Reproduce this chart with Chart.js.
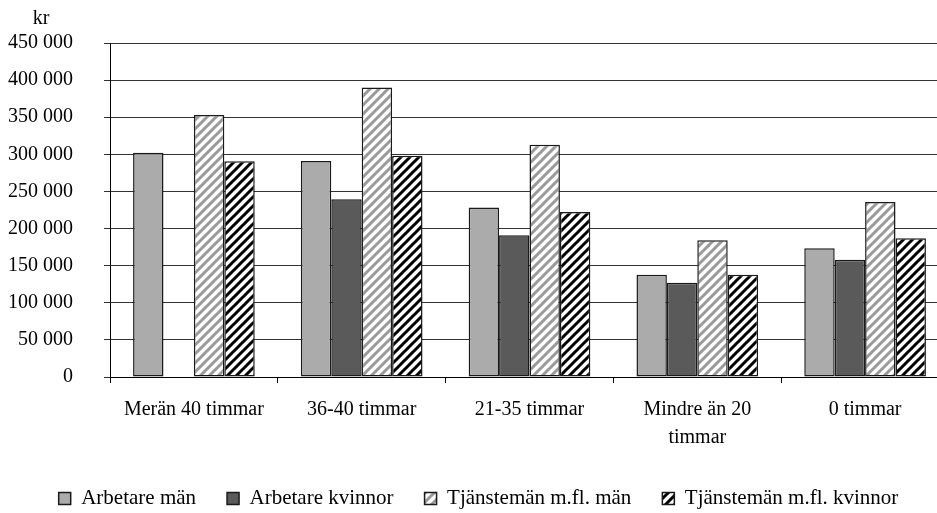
<!DOCTYPE html>
<html>
<head>
<meta charset="utf-8">
<script src="https://cdn.jsdelivr.net/npm/chart.js@4/dist/chart.umd.min.js"></script>
<style>
  html, body { margin: 0; padding: 0; background: #fff; overflow: hidden; }
  #wrap { position: relative; width: 950px; height: 513px; }
</style>
</head>
<body>
<div id="wrap"><canvas id="c"></canvas></div>
<script>
const categories = ['Merän 40 timmar', '36-40 timmar', '21-35 timmar', ['Mindre än 20', 'timmar'], '0 timmar'];
const seriesNames = ['Arbetare män', 'Arbetare kvinnor', 'Tjänstemän m.fl. män', 'Tjänstemän m.fl. kvinnor'];
const arbetareMan = [302000, 291000, 228500, 137700, 173500];
const arbetareKvinnor = [null, 239500, 191000, 127000, 158000];
const tjanstemanMan = [353000, 390000, 313000, 184300, 235700];
const tjanstemanKvinnor = [290700, 298000, 222200, 137700, 187000];
const yTickStep = 50000;
const yMax = 450000;
const unitLabel = 'kr';

const FONT = 'Liberation Serif, Times New Roman, serif';

function hatch(color) {
  const s = 9;
  const c = document.createElement('canvas');
  c.width = s; c.height = s;
  const g = c.getContext('2d');
  g.fillStyle = '#ffffff';
  g.fillRect(0, 0, s, s);
  g.strokeStyle = color;
  g.lineWidth = 3;
  g.lineCap = 'square';
  g.beginPath();
  g.moveTo(-2, s + 2); g.lineTo(s + 2, -2);
  g.moveTo(-2, 2); g.lineTo(2, -2);
  g.moveTo(s - 2, s + 2); g.lineTo(s + 2, s - 2);
  g.stroke();
  return g.createPattern(c, 'repeat');
}

function fmt(v) {
  return String(v).replace(/\B(?=(\d{3})+(?!\d))/g, ' ');
}

const Y_TICK_LEN = 6;
const Y_PAD = 31;

const unitPlugin = {
  id: 'unitLabel',
  afterDraw(chart) {
    const y = chart.scales.y;
    const ctx = chart.ctx;
    ctx.save();
    ctx.font = '20px ' + FONT;
    ctx.fillStyle = '#000';
    ctx.textAlign = 'center';
    ctx.textBaseline = 'alphabetic';
    const labelRight = y.right - Y_TICK_LEN - Y_PAD;
    ctx.fillText(unitLabel, labelRight - 32, chart.chartArea.top - 19);
    ctx.restore();
  }
};

const border = '#1a1a1a';
const common = { borderColor: border, borderWidth: 1.5, borderSkipped: false };

new Chart(document.getElementById('c'), {
  type: 'bar',
  data: {
    labels: categories,
    datasets: [
      Object.assign({ label: seriesNames[0], data: arbetareMan, backgroundColor: '#ababab' }, common),
      Object.assign({ label: seriesNames[1], data: arbetareKvinnor, backgroundColor: '#5a5a5a' }, common),
      Object.assign({ label: seriesNames[2], data: tjanstemanMan, backgroundColor: hatch('#9a9a9a') }, common),
      Object.assign({ label: seriesNames[3], data: tjanstemanKvinnor, backgroundColor: hatch('#000000') }, common)
    ]
  },
  options: {
    responsive: true,
    maintainAspectRatio: false,
    animation: false,
    events: [],
    layout: { padding: { left: 8, top: 42, right: 1, bottom: 0 } },
    datasets: { bar: { categoryPercentage: 0.725, barPercentage: 1.0 } },
    scales: {
      x: {
        grid: { display: true, drawOnChartArea: false, drawTicks: true, tickLength: 6, color: '#000', offset: true },
        border: { display: true, color: '#000', width: 1 },
        ticks: {
          color: '#000', font: { family: FONT, size: 20, lineHeight: 1.4 },
          maxRotation: 0, minRotation: 0, autoSkip: false, padding: 13
        },
        afterFit(scale) { scale.height = 80; }
      },
      y: {
        min: 0, max: yMax,
        grid: { color: '#333333', lineWidth: 1, drawTicks: true, tickLength: Y_TICK_LEN },
        border: { display: true, color: '#000', width: 1 },
        ticks: {
          stepSize: yTickStep, color: '#000', padding: Y_PAD,
          font: { family: FONT, size: 20 },
          callback: (v) => fmt(v)
        },
        afterFit(scale) { scale.width = 102; }
      }
    },
    plugins: {
      title: { display: false },
      tooltip: { enabled: false },
      legend: {
        position: 'bottom',
        maxHeight: 56,
        labels: {
          color: '#000', boxWidth: 12, boxHeight: 12, padding: 31,
          font: { family: FONT, size: 21 }
        }
      }
    }
  },
  plugins: [unitPlugin]
});
</script>
</body>
</html>
